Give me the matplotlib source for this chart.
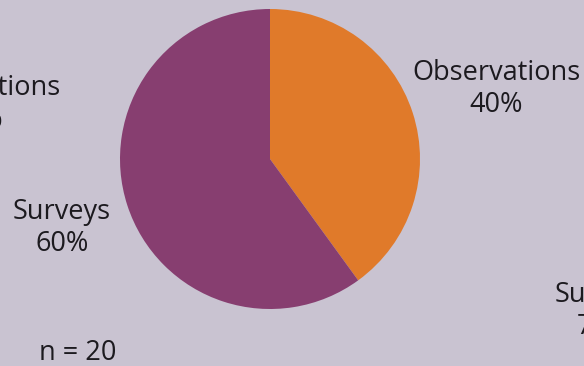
import matplotlib.pyplot as plt

# share of data sources for the middle group
categories = ["Observations", "Surveys"]
shares = [40, 60]
n_total = 20

# labels of the neighbouring groups that spill in at the edges
left_label = ("Observations", 25)
right_label = ("Surveys", 75)

bg = "#c9c3d1"
colors = ["#e07a2a", "#873e70"]
ink = "#1c1a1f"
plt.rcParams["font.family"] = ["Open Sans", "DejaVu Sans"]

W, H = 584, 366
fig = plt.figure(figsize=(W / 100, H / 100), dpi=100, facecolor=bg)

# pie axes: 300 px square centred at (270, 159)
cx, cy, r = 270, 159, 150
ax = fig.add_axes([(cx - r) / W, (H - cy - r) / H, 2 * r / W, 2 * r / H])
ax.pie(shares, colors=colors, startangle=90, counterclock=False,
       wedgeprops=dict(linewidth=0))
ax.set_xlim(-1, 1)
ax.set_ylim(-1, 1)
ax.set_aspect("equal")
ax.axis("off")

def label(x, y, name, pct):
    fig.text(x / W, 1 - y / H, f"{name}\n{pct}%", ha="center", va="center",
             fontsize=19.5, color=ink, linespacing=1.22, multialignment="center")

label(496, 89, categories[0], shares[0])
label(62, 228, categories[1], shares[1])
label(-24, 104, *left_label)
label(604, 311, *right_label)

fig.text(78 / W, 1 - 353 / H, f"n = {n_total}", ha="center", va="center",
         fontsize=19.5, color=ink)

fig.savefig("out.png", dpi=100, facecolor=bg)
